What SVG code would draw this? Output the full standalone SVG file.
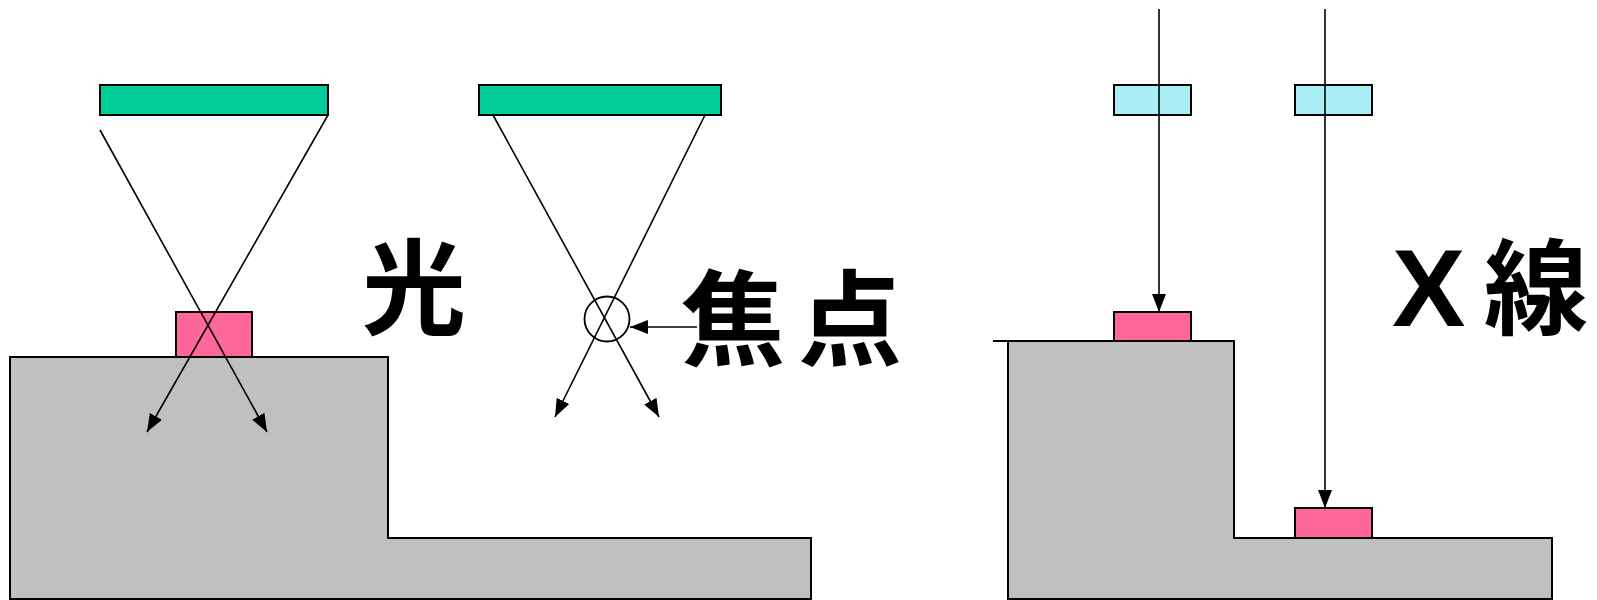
<svg xmlns="http://www.w3.org/2000/svg" width="1597" height="600" viewBox="0 0 1597 600">
<style>
.base{fill:#C0C0C0;stroke:#000;stroke-width:2}
.green{fill:#00CC99;stroke:#000;stroke-width:2}
.cyan{fill:#A8EEF4;stroke:#000;stroke-width:2}
.pink{fill:#FF6699;stroke:#000;stroke-width:2}
.ray{fill:none;stroke:#000;stroke-width:1.6}
.lbl{font-family:"Noto Sans CJK JP","Noto Sans CJK SC",sans-serif;font-weight:bold;font-size:104px;fill:#000}
.lat{font-family:"Liberation Sans",Arial,sans-serif;font-weight:bold;font-size:110px;fill:#000}
</style>
<defs>
<marker id="ah" markerUnits="userSpaceOnUse" markerWidth="20" markerHeight="16" refX="18" refY="7" orient="auto">
<path d="M0,0 L18,7 L0,14 Z" fill="#000"/>
</marker>
</defs>
<g id="base-left"><path class="base" d="M10,357 H388 V538 H811 V599 H10 Z"/></g>
<g id="base-right"><path class="base" d="M1008,341 V599 H1552 V538 H1234 V341 Z"/><line x1="993" y1="341" x2="1234" y2="341" stroke="#000" stroke-width="2"/></g>
<g id="lens-1"><rect class="green" x="100" y="85" width="228" height="30"/></g>
<g id="lens-2"><rect class="green" x="479" y="85" width="242" height="30"/></g>
<g id="sample-1"><rect class="pink" x="176" y="312" width="76" height="45"/></g>
<g id="focus-circle"><circle cx="607" cy="319" r="22.5" fill="none" stroke="#000" stroke-width="1.8"/></g>
<g id="xfilter-1"><rect class="cyan" x="1114" y="85" width="77" height="30"/></g>
<g id="xfilter-2"><rect class="cyan" x="1295" y="85" width="77" height="30"/></g>
<g id="sample-2"><rect class="pink" x="1114" y="312" width="77" height="29"/></g>
<g id="sample-3"><rect class="pink" x="1295" y="508" width="77" height="30"/></g>
<g id="connectors">
<line class="ray" x1="100" y1="130" x2="267" y2="432" marker-end="url(#ah)"/>
<line class="ray" x1="328" y1="115" x2="147" y2="432" marker-end="url(#ah)"/>
<line class="ray" x1="493" y1="115" x2="659" y2="417" marker-end="url(#ah)"/>
<line class="ray" x1="705" y1="115" x2="555" y2="417" marker-end="url(#ah)"/>
<line class="ray" x1="697" y1="327" x2="630" y2="327" marker-end="url(#ah)"/>
<line class="ray" x1="1159" y1="9" x2="1159" y2="312" marker-end="url(#ah)"/>
<line class="ray" x1="1325" y1="9" x2="1325" y2="508" marker-end="url(#ah)"/>
</g>
<g id="label-light"><text class="lbl" x="362" y="327">光</text></g>
<g id="label-focus"><text class="lbl" x="681" y="358" letter-spacing="13">焦点</text></g>
<g id="label-xray"><text class="lat" x="1392" y="326">X</text><text class="lbl" x="1484" y="327">線</text></g>
</svg>
